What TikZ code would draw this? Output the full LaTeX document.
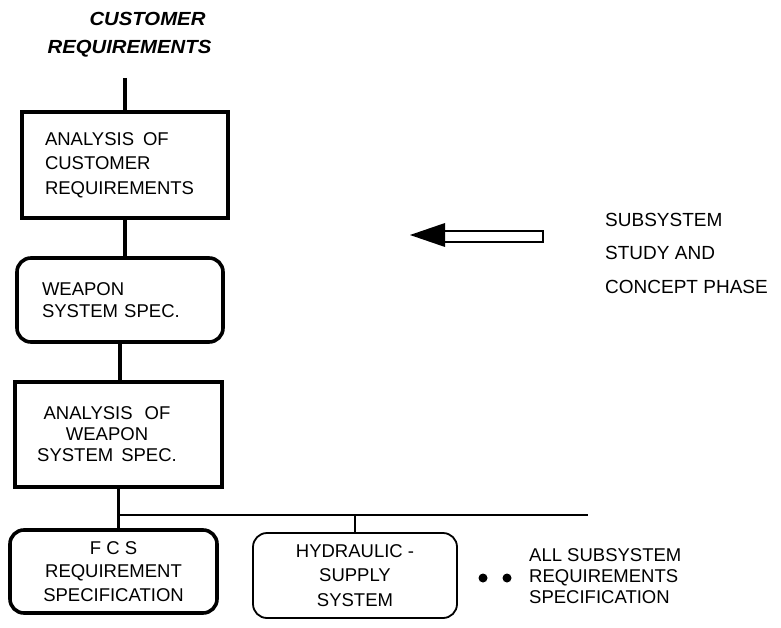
\documentclass[tikz,border=0pt]{standalone}
\usepackage{fontspec}
\setmainfont{Liberation Sans}
\newfontfamily\headfont[FakeStretch=1.07]{Liberation Sans}
\begin{document}
\begin{tikzpicture}[x=1pt,y=-1pt,
  heavy/.style={line width=3.6pt},
  sqbox/.style={draw, heavy, line join=miter, inner sep=0pt},
  rbox/.style={draw, heavy, rounded corners=14pt, inner sep=0pt},
  thinrbox/.style={draw, line width=1.8pt, rounded corners=14pt, inner sep=0pt},
  lbl/.style={inner sep=0pt},
  title/.style={inner sep=0pt, font=\headfont\fontsize{19}{22}\selectfont\bfseries\itshape},
  ]
\useasboundingbox (0,0) rectangle (781,628);

% heading
\node[title] (t1) at (147.5,18.5) {CUSTOMER};
\node[title] (t2) at (129.5,48.5) {REQUIREMENTS};
\coordinate (in) at (125,78);

% main chain of boxes
\node[sqbox, minimum width=206pt, minimum height=106pt, text width=160pt, align=left,
      font=\fontsize{18.5}{24.5}\selectfont] (b1) at (125,165)
      {ANALYSIS\hspace{9pt}OF\\CUSTOMER\\REQUIREMENTS};
\node[rbox, minimum width=206pt, minimum height=84pt, text width=156pt, align=left,
      font=\fontsize{18.5}{22}\selectfont] (b2) at (120,300)
      {WEAPON\\SYSTEM SPEC.};
\node[sqbox, minimum width=207pt, minimum height=105pt] (b3) at (118.5,434.5) {};
\node[lbl, align=center, font=\fontsize{18.5}{21}\selectfont] (b3t) at (107,434)
      {ANALYSIS\hspace{12pt}OF\\WEAPON\\SYSTEM\hspace{8pt}SPEC.};
\node[rbox, minimum width=207pt, minimum height=83pt, align=center,
      font=\fontsize{18.5}{23.5}\selectfont] (fcs) at (113.5,571.5)
      {F C S\\REQUIREMENT\\SPECIFICATION};
\node[thinrbox, minimum width=204pt, minimum height=85pt, align=center,
      font=\fontsize{18.5}{24.5}\selectfont] (hyd) at (355,575.5)
      {HYDRAULIC -\\SUPPLY\\SYSTEM};

% connectors
\draw[heavy] (in) -- (b1.north);
\draw[heavy] (b1.south) -- (b1.south |- b2.north);
\draw[heavy] (b2.south) -- (b2.south |- b3.north);
\draw[heavy] (b3.south) -- (b3.south |- fcs.north);
\coordinate (busL) at (118.5,515);
\coordinate (busR) at (588,515);
\draw[line width=2.4pt] (busL) -- (busR);
\draw[line width=1.8pt] (hyd.north) -- (hyd.north |- busL);

% remaining subsystems
\fill (483,578) circle (4.5);
\fill (507,578) circle (4.5);
\node[lbl, anchor=west, align=left, font=\fontsize{18.5}{21}\selectfont] (allsub) at (529,576)
      {ALL SUBSYSTEM\\REQUIREMENTS\\SPECIFICATION};

% phase marker
\draw[line width=1.5pt, fill=white] (444,231) rectangle (543,242);
\fill (410,235) -- (445,223) -- (445,247) -- cycle;
\node[lbl, anchor=west, align=left, font=\fontsize{19}{33.5}\selectfont] (phase) at (605,253)
      {SUBSYSTEM\\STUDY AND\\CONCEPT PHASE};
\end{tikzpicture}
\end{document}
